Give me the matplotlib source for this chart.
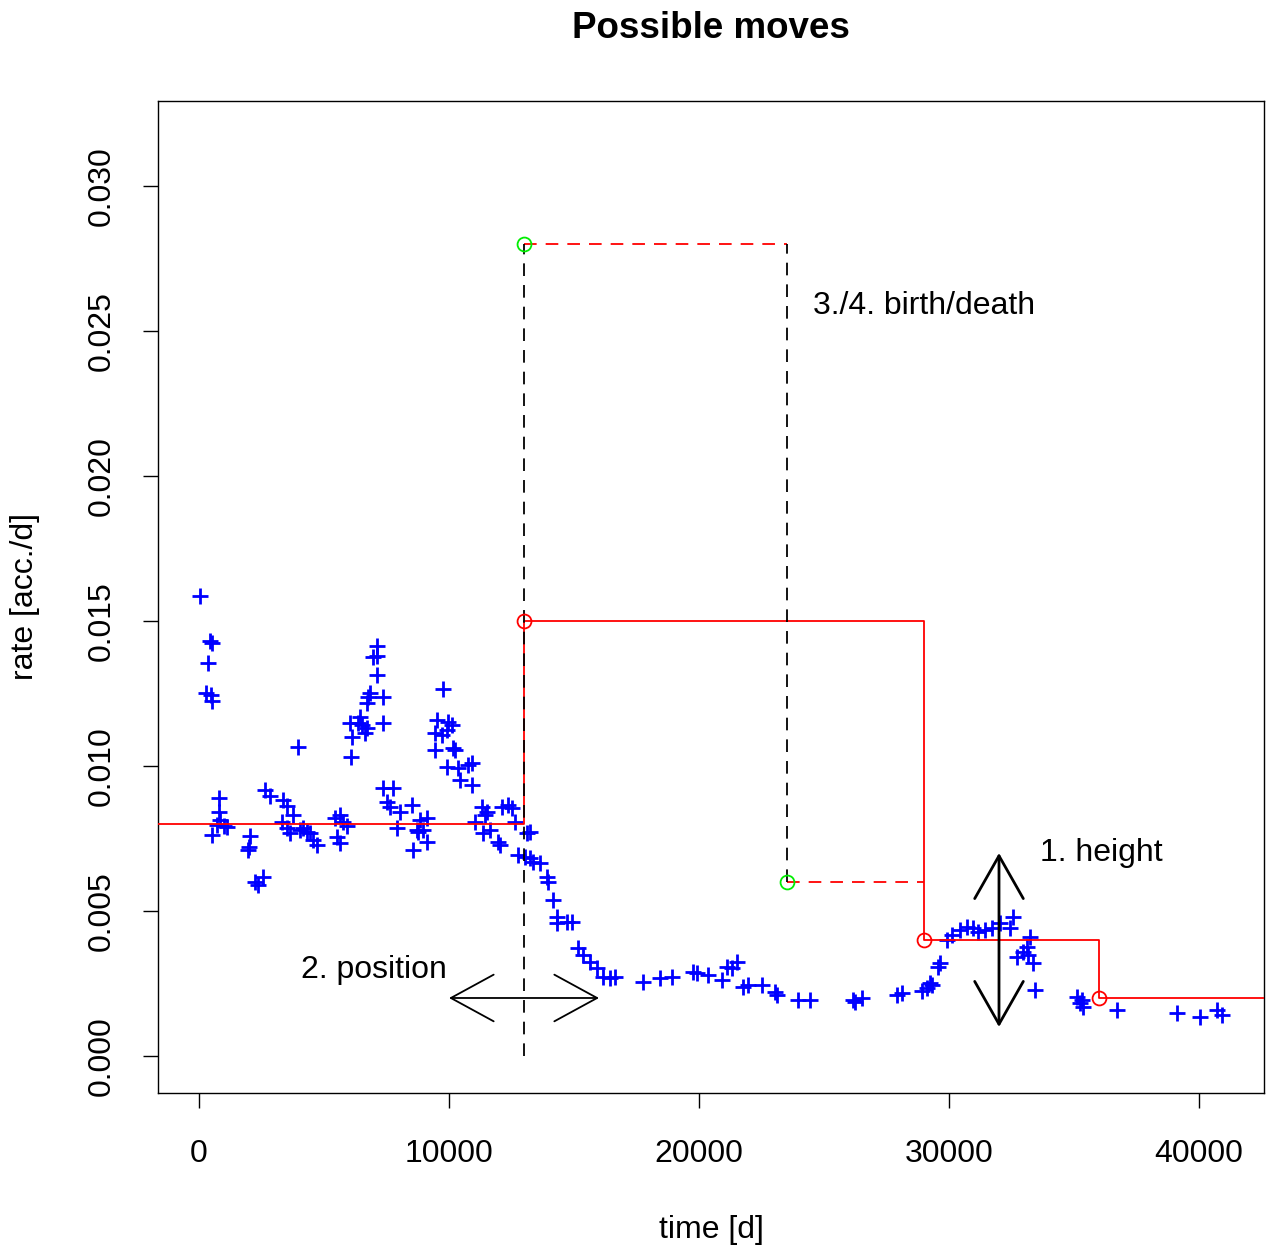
import matplotlib
matplotlib.use("Agg")
import matplotlib.pyplot as plt

plt.rcParams['font.family'] = ['Liberation Sans', 'DejaVu Sans']

# observed accident rates
time_d = [40, 440, 520, 360, 280, 480, 520, 800, 800, 840, 720, 1120, 520, 1000,
          2040, 2000, 1960, 2560, 2240, 2360,
          2640, 2840, 3360, 3520, 3760, 3320, 3520, 3640, 4160, 4440, 4560, 4720,
          5440, 5640, 5760, 5920, 5520, 5640, 4040, 4320, 3960, 6080,
          7120, 7120, 6960, 7120, 6840, 6760, 7360, 6720, 6440, 6040, 6520, 6720,
          6640, 6120, 7360, 6360,
          7360, 7760, 7520, 7640, 8040, 8520, 7920, 8720, 8840, 9120, 9120, 8560,
          8760, 8960,
          9760, 9520, 9960, 10120, 9440, 9720, 9920, 9440, 10160, 10240, 9920,
          10360, 10760, 10920, 10440, 10920,
          11320, 11520, 11440, 11040, 11360, 11640, 11960, 12040, 12120, 12360,
          12520, 12640,
          13240, 13120, 12760, 13040, 13240, 13360, 13640, 13920, 13960, 14160,
          14320, 14320, 14720, 14920, 15160, 15360, 15640, 15920, 16160, 16440, 16640,
          17760, 18440, 18920, 19760, 19920, 20360, 20920, 21120, 21520, 21320,
          21760, 21960, 22520, 23040, 23120, 23960, 24440,
          26160, 26520, 26240, 27920, 28120, 28920, 29120, 29240, 29320, 29640,
          29560, 29920, 30120, 30440, 30720, 30960, 31160, 31440, 31720, 32040,
          32560, 32440, 33240, 33120, 32960, 32720, 33160, 33360, 33440,
          35120, 35320, 35360, 35240, 36720, 39120, 40040, 40720, 40920]
rate = [0.01586, 0.01431, 0.01424, 0.01355, 0.01252, 0.01245, 0.01224, 0.00890,
        0.00841, 0.00814, 0.00797, 0.00790, 0.00762, 0.00793,
        0.00759, 0.00721, 0.00710, 0.00617, 0.00600, 0.00590,
        0.00917, 0.00897, 0.00883, 0.00862, 0.00831, 0.00807, 0.00786, 0.00769,
        0.00786, 0.00769, 0.00745, 0.00728,
        0.00821, 0.00831, 0.00807, 0.00793, 0.00755, 0.00734, 0.00779, 0.00772,
        0.01066, 0.01031,
        0.01414, 0.01379, 0.01376, 0.01314, 0.01252, 0.01238, 0.01238, 0.01217,
        0.01169, 0.01148, 0.01141, 0.01131, 0.01114, 0.01100, 0.01148, 0.01148,
        0.00924, 0.00924, 0.00876, 0.00859, 0.00841, 0.00866, 0.00786, 0.00779,
        0.00814, 0.00821, 0.00738, 0.00710, 0.00772, 0.00779,
        0.01266, 0.01159, 0.01152, 0.01141, 0.01114, 0.01107, 0.01124, 0.01055,
        0.01062, 0.01055, 0.00997, 0.00993, 0.01003, 0.01010, 0.00952, 0.00934,
        0.00859, 0.00841, 0.00831, 0.00807, 0.00769, 0.00779, 0.00738, 0.00728,
        0.00859, 0.00866, 0.00855, 0.00807,
        0.00772, 0.00769, 0.00693, 0.00686, 0.00683, 0.00669, 0.00666, 0.00617,
        0.00600, 0.00538, 0.00479, 0.00459, 0.00462, 0.00462, 0.00372, 0.00348,
        0.00324, 0.00303, 0.00272, 0.00269, 0.00272,
        0.00255, 0.00269, 0.00272, 0.00290, 0.00286, 0.00279, 0.00262, 0.00307,
        0.00324, 0.00303, 0.00238, 0.00245, 0.00245, 0.00221, 0.00210, 0.00193,
        0.00193,
        0.00193, 0.00200, 0.00186, 0.00210, 0.00217, 0.00224, 0.00234, 0.00252,
        0.00245, 0.00321, 0.00307, 0.00400, 0.00417, 0.00434, 0.00445, 0.00441,
        0.00428, 0.00434, 0.00441, 0.00459, 0.00479, 0.00441, 0.00410, 0.00376,
        0.00359, 0.00341, 0.00348, 0.00321, 0.00228,
        0.00203, 0.00193, 0.00169, 0.00183, 0.00159, 0.00148, 0.00134, 0.00159,
        0.00141]

# current step function (change points and heights)
step_x = [13000, 29000, 36000]
step_h = [0.008, 0.015, 0.004, 0.002]

# proposed birth/death step
birth_x = [13000, 23500]
birth_h = [0.028, 0.006]

x_ticks = [0, 10000, 20000, 30000, 40000]
y_ticks = [0.000, 0.005, 0.010, 0.015, 0.020, 0.025, 0.030]

xlim = (-1640, 42600)
ylim = (-0.001276, 0.03293)

fig = plt.figure(figsize=(12.73, 12.48), dpi=100)
ax = fig.add_axes([158 / 1273, 155 / 1248, 1106 / 1273, 992 / 1248])
ax.set_xlim(*xlim)
ax.set_ylim(*ylim)

# data points
ax.plot(time_d, rate, linestyle='none', marker='+', color='blue',
        markersize=12, markeredgewidth=2.0, zorder=2)

# current step function
sx = [xlim[0]] + step_x + [xlim[1]]
ax.step(sx, step_h + [step_h[-1]], where='post', color='red', lw=1.3, zorder=3)
ax.plot(step_x, step_h[1:], linestyle='none', marker='o', markersize=10,
        markerfacecolor='none', markeredgecolor='red', markeredgewidth=1.3, zorder=4)

# birth/death proposal
dash = (7, 5)
ax.plot([birth_x[0], birth_x[1]], [birth_h[0], birth_h[0]], color='red', lw=1.3,
        dashes=dash, zorder=3)
ax.plot([birth_x[1], step_x[1]], [birth_h[1], birth_h[1]], color='red', lw=1.3,
        dashes=dash, zorder=3)
ax.plot([birth_x[0], birth_x[0]], [0.0, birth_h[0]], color='black', lw=1.3,
        dashes=dash, zorder=3)
ax.plot([birth_x[1], birth_x[1]], [birth_h[1], birth_h[0]], color='black', lw=1.3,
        dashes=dash, zorder=3)
ax.plot(birth_x, birth_h, linestyle='none', marker='o', markersize=10,
        markerfacecolor='none', markeredgecolor='#00ee00', markeredgewidth=1.3, zorder=4)

# move arrows
ax.annotate('', xy=(10000, 0.002), xytext=(16000, 0.002),
            arrowprops=dict(arrowstyle='<->,head_length=2.2,head_width=1.2',
                            color='black', lw=1.3, shrinkA=0, shrinkB=0,
                            mutation_scale=14))
ax.annotate('', xy=(32000, 0.007), xytext=(32000, 0.001),
            arrowprops=dict(arrowstyle='<->,head_length=2.2,head_width=1.25',
                            color='black', lw=2.0, shrinkA=0, shrinkB=0,
                            mutation_scale=14))

fs = 23
ax.text(24560, 0.02587, '3./4. birth/death', fontsize=fs, ha='left', va='center')
ax.text(33640, 0.0070, '1. height', fontsize=fs, ha='left', va='center')
ax.text(4080, 0.00297, '2. position', fontsize=fs, ha='left', va='center')

ax.set_xticks(x_ticks)
ax.set_xticklabels([str(t) for t in x_ticks], fontsize=fs)
ax.set_yticks(y_ticks)
ax.set_yticklabels(['%.3f' % t for t in y_ticks], fontsize=fs, rotation=90,
                   va='center')
ax.tick_params(axis='x', length=11, width=1.0, pad=22)
ax.tick_params(axis='y', length=11, width=1.0, pad=19)
for s in ax.spines.values():
    s.set_linewidth(1.0)

ax.set_xlabel('time [d]', fontsize=fs, labelpad=33)
ax.set_ylabel('rate [acc./d]', fontsize=fs, labelpad=33)
ax.set_title('Possible moves', fontsize=26.5, fontweight='bold', pad=45)

fig.savefig('out.png', dpi=100)
